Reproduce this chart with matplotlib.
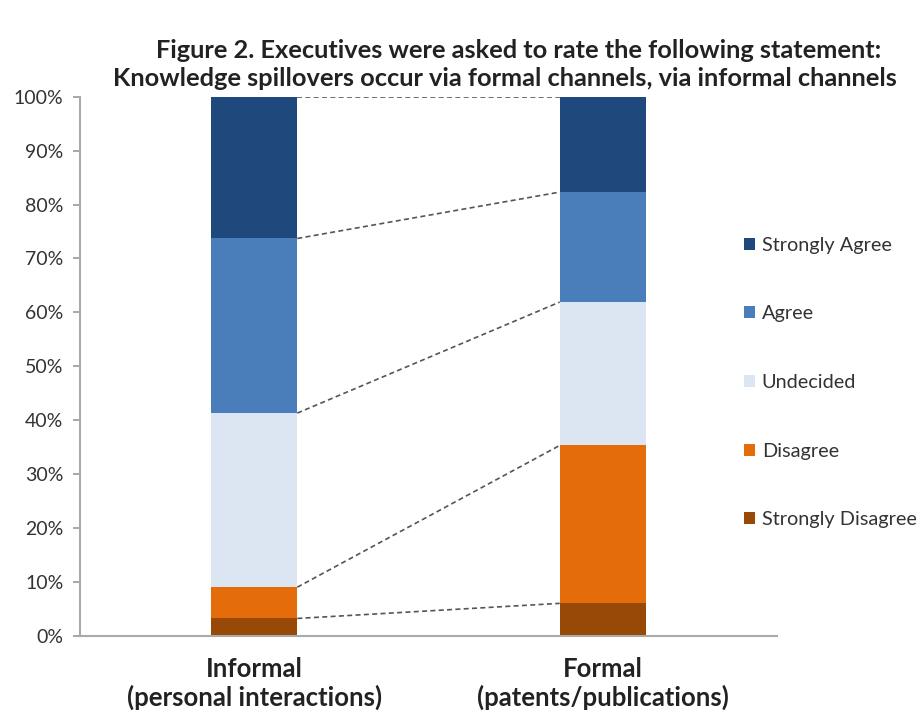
import matplotlib
matplotlib.use("Agg")
import matplotlib.pyplot as plt
from matplotlib.patches import Patch
import numpy as np

plt.rcParams['font.family'] = ['Lato', 'DejaVu Sans']

categories = ["Informal\n(personal interactions)", "Formal\n(patents/publications)"]
series = ["Strongly Disagree", "Disagree", "Undecided", "Agree", "Strongly Agree"]
strongly_disagree = [0.032, 0.060]
disagree = [0.058, 0.293]
undecided = [0.323, 0.266]
agree = [0.324, 0.204]
strongly_agree = [0.263, 0.177]
yticks = [0, 0.1, 0.2, 0.3, 0.4, 0.5, 0.6, 0.7, 0.8, 0.9, 1.0]
ytick_labels = ["0%", "10%", "20%", "30%", "40%", "50%", "60%", "70%", "80%", "90%", "100%"]

colors = ["#984807", "#e46c0a", "#dce6f2", "#4a7ebb", "#1f497d"]
values = [strongly_disagree, disagree, undecided, agree, strongly_agree]

fig = plt.figure(figsize=(9.22, 7.14), dpi=100)
ax = fig.add_axes([80/922, 1-635.7/714, (777-80)/922, (635.7-96.7)/714])

x = np.arange(len(categories))
w = 0.247
bottom = np.zeros(len(categories))
for vals, col, name in zip(values, colors, series):
    ax.bar(x, vals, w, bottom=bottom, color=col, label=name, zorder=2)
    bottom = bottom + np.array(vals)
    ax.plot([x[0] + w/2, x[1] - w/2], [bottom[0], bottom[1]], ls=(0, (3, 2)),
            color="#555555", lw=1.2, zorder=1)

ax.set_xlim(-0.5, 1.5)
ax.set_ylim(0, 1)
ax.set_yticks(yticks)
ax.set_yticklabels(ytick_labels, fontsize=14, color="#333333")
ax.set_xticks(x)
ax.set_xticklabels(categories, fontsize=18.5, fontweight='bold', color="#222222",
                   linespacing=1.2)
ax.tick_params(axis='x', length=0, pad=15)
ax.tick_params(axis='y', length=5, color="#999999", width=1.2, pad=7)
for s in ['top', 'right']:
    ax.spines[s].set_visible(False)
for s in ['left', 'bottom']:
    ax.spines[s].set_color("#aaaaaa")
    ax.spines[s].set_linewidth(1.5)

handles = [Patch(facecolor=c, label=n) for c, n in zip(colors, series)][::-1]
fig.legend(handles=handles, loc='center left', bbox_to_anchor=(726/922, 1-382.5/714),
           frameon=False, fontsize=14.3, handlelength=0.55, handleheight=0.55,
           handletextpad=0.35, labelspacing=2.6, labelcolor="#333333")

fig.text(519/922, 1-50/714, "Figure 2. Executives were asked to rate the following statement:",
         ha='center', va='center', fontsize=18.3, fontweight='bold', color="#222222")
fig.text(505/922, 1-78/714, "Knowledge spillovers occur via formal channels, via informal channels",
         ha='center', va='center', fontsize=18.3, fontweight='bold', color="#222222")

fig.savefig("out.png", dpi=100)
